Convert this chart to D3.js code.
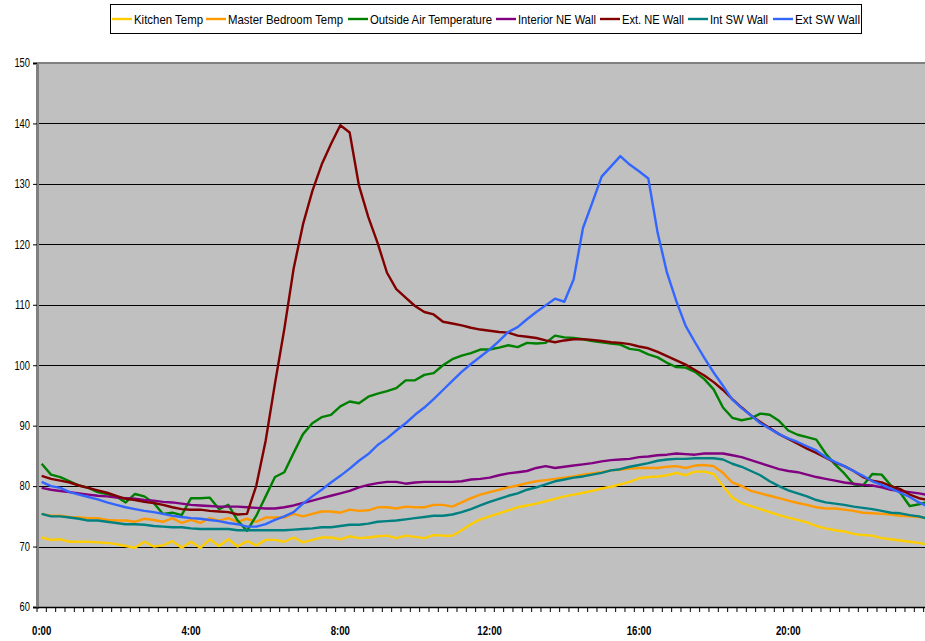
<!DOCTYPE html>
<html><head><meta charset="utf-8">
<script src="https://cdn.jsdelivr.net/npm/d3@7"></script>
<style>
html,body{margin:0;padding:0;background:#fff;}
svg text{font-family:"Liberation Sans",Arial,sans-serif;}
</style></head>
<body><svg id="c" width="925" height="641"></svg>
<script>
// 15-minute categories over 24 h
const times = d3.range(96).map(i => `${Math.floor(i/4)}:${String((i%4)*15).padStart(2,"0")}`);
const xTickLabels = ["0:00","4:00","8:00","12:00","16:00","20:00"];
const yTicks = [60,70,80,90,100,110,120,130,140,150];

const kitchen = [71.5,71.1,71.2,70.8,70.8,70.8,70.7,70.6,70.4,70.1,69.8,70.8,70.0,70.2,70.9,69.8,70.8,69.8,71.2,70.1,71.2,70.0,70.9,70.2,71.1,71.1,70.8,71.5,70.7,71.1,71.5,71.5,71.2,
71.7,71.4,71.5,71.7,71.8,71.4,71.8,71.6,71.4,71.9,71.8,71.8,72.7,73.7,74.5,75.0,75.5,76.0,76.5,76.8,77.1,77.5,77.9,78.3,78.6,78.9,79.2,79.6,79.9,80.3,80.7,81.3,
81.5,81.6,81.8,82.2,81.8,82.4,82.4,82.0,80.0,78.1,77.2,76.7,76.2,75.7,75.2,74.8,74.4,74.0,73.4,73.0,72.7,72.5,72.1,71.9,71.8,71.4,71.2,71.0,70.8,70.6,70.3];
const masterBedroom = [75.4,75.1,75.1,74.9,74.8,74.7,74.7,74.4,74.3,74.3,74.1,74.6,74.4,74.1,74.7,73.9,74.4,73.9,74.7,74.3,74.7,74.1,74.6,74.1,74.8,74.8,74.8,75.4,75.0,75.4,75.8,75.8,75.6,
76.1,75.9,76.0,76.5,76.5,76.3,76.6,76.5,76.5,76.9,76.9,76.6,77.3,78.0,78.6,79.0,79.4,79.8,80.1,80.5,80.8,81.0,81.2,81.4,81.6,81.9,82.1,82.3,82.6,82.7,82.9,83.0,
83.0,83.0,83.2,83.3,83.0,83.4,83.5,83.3,82.2,80.6,80.0,79.2,78.8,78.4,78.0,77.6,77.2,76.9,76.5,76.3,76.3,76.1,75.9,75.6,75.5,75.4,75.3,75.1,75.0,74.9,74.7];
const outsideAir = [83.7,81.9,81.5,80.8,80.1,79.7,79.0,78.7,78.3,77.3,78.7,78.3,77.2,75.4,75.6,75.2,78.0,78.0,78.1,76.2,76.9,74.3,72.6,75.1,
78.3,81.5,82.3,85.5,88.6,90.4,91.4,91.8,93.2,94.0,93.7,94.8,95.3,95.7,96.2,97.5,97.5,98.4,98.7,100.0,101.0,101.6,102.0,102.6,102.6,102.9,103.3,103.0,103.7,103.6,103.7,
104.9,104.6,104.5,104.3,104.0,103.8,103.6,103.4,102.7,102.5,101.8,101.3,100.4,99.7,99.6,98.9,97.7,96.0,93.0,91.3,90.9,91.2,92.0,91.8,90.8,89.2,88.5,88.1,87.7,
85.4,83.6,82.1,80.3,80.1,82.0,81.9,80.1,78.9,76.7,77.0,77.4];
const interiorNE = [79.7,79.4,79.2,79.0,78.8,78.6,78.4,78.3,78.1,78.0,77.9,77.7,77.6,77.4,77.3,77.1,76.9,76.8,76.7,76.6,76.6,76.6,76.5,76.4,76.3,76.3,76.5,76.8,77.2,77.6,78.0,78.4,78.8,
79.2,79.8,80.2,80.5,80.7,80.7,80.4,80.6,80.7,80.7,80.7,80.7,80.8,81.1,81.2,81.4,81.8,82.1,82.3,82.5,83.0,83.3,83.0,83.2,83.4,83.6,83.8,84.1,84.3,
84.4,84.5,84.8,84.9,85.1,85.2,85.4,85.3,85.2,85.4,85.4,85.4,85.1,84.8,84.3,83.8,83.3,82.8,82.5,82.3,81.9,81.5,81.2,80.9,80.6,80.4,80.2,80.1,79.8,79.4,79.2,79.0,78.8,78.5];
const extNE = [81.7,81.2,80.9,80.6,80.1,79.7,79.3,78.9,78.4,77.9,77.7,77.4,77.2,76.9,76.5,76.2,76.1,76.1,75.9,75.8,75.7,75.3,75.4,
80.1,87.5,97.0,106.0,116.0,123.3,128.8,133.2,136.6,139.7,138.5,129.7,124.5,120.2,115.3,112.6,111.2,109.8,108.8,108.4,107.2,106.9,106.6,106.2,105.9,105.7,105.5,105.4,
104.9,104.7,104.5,104.1,103.8,104.1,104.3,104.3,104.2,104.0,103.8,103.7,103.5,103.1,102.8,
102.2,101.5,100.8,100.1,99.2,98.3,97.2,95.9,94.4,93.0,91.7,90.6,89.6,88.6,87.8,87.0,86.2,85.5,84.7,83.9,83.3,82.5,81.5,80.9,80.6,80.0,79.5,78.6,78.0,77.7];
const intSW = [75.4,75.0,75.0,74.8,74.6,74.3,74.3,74.1,73.9,73.7,73.7,73.6,73.4,73.3,73.2,73.2,73.0,72.9,72.9,72.9,72.9,72.7,72.7,72.7,72.7,72.7,72.7,72.8,72.9,73.0,73.2,73.2,73.4,
73.6,73.6,73.8,74.1,74.2,74.3,74.5,74.7,74.9,75.1,75.1,75.3,75.7,76.2,76.8,77.4,77.9,78.4,78.8,79.4,79.8,80.3,80.8,81.1,81.4,81.6,81.9,82.2,82.6,
82.8,83.2,83.5,83.8,84.2,84.4,84.5,84.5,84.6,84.6,84.6,84.4,83.7,83.2,82.5,81.8,80.8,80.0,79.3,78.8,78.3,77.7,77.3,77.1,76.9,76.6,76.4,76.2,75.9,75.6,75.5,75.2,75.0,74.6];
const extSW = [80.7,80.0,79.7,79.0,78.6,78.2,77.8,77.3,76.9,76.5,76.2,75.9,75.7,75.4,75.1,74.9,74.7,74.6,74.4,74.2,73.9,73.7,73.3,73.3,73.7,74.4,75.0,75.7,77.1,
78.3,79.4,80.6,81.7,82.9,84.2,85.3,86.8,87.9,89.2,90.4,91.8,93.0,94.4,95.9,97.4,98.9,100.2,101.4,102.6,104.0,105.5,106.3,107.6,108.8,109.9,111.0,110.5,
114.2,122.7,126.9,131.2,132.9,134.6,133.2,132.1,130.9,121.9,115.3,110.6,106.5,103.8,101.2,98.8,96.6,94.3,92.9,91.7,90.4,89.5,88.6,87.9,87.3,86.6,85.9,84.8,84.0,
83.3,82.5,81.7,80.8,80.2,79.6,78.9,78.2,77.3,76.6];

const seriesNames = ["Kitchen Temp","Master Bedroom Temp","Outside Air Temperature","Interior NE Wall","Ext. NE Wall","Int SW Wall","Ext SW Wall"];
const seriesColors = ["#FFCC00","#FF9900","#008000","#800080","#800000","#008080","#3366FF"];
const seriesData = [kitchen, masterBedroom, outsideAir, interiorNE, extNE, intSW, extSW];

const svg = d3.select("#c");
const padL = 37, padT = 63, padB = 607, catW = 9.333;
const x = d3.scaleBand().domain(times).range([padL, padL + 96*catW]).padding(0);
const y = d3.scaleLinear().domain([60,150]).range([padB, padT]);

// condense text horizontally (narrow face look)
function condense(sel, f) {
  sel.each(function(){
    const w = this.getComputedTextLength();
    d3.select(this).attr("textLength", w*f).attr("lengthAdjust","spacingAndGlyphs");
  });
}

// plot background
svg.append("rect").attr("x", padL).attr("y", padT).attr("width", 96*catW).attr("height", padB-padT).attr("fill", "#C0C0C0");

// gridlines
svg.append("g").selectAll("line").data(yTicks.filter(v => v>60 && v<150)).join("line")
  .attr("x1", padL).attr("x2", padL+96*catW).attr("y1", d=>Math.round(y(d))+0.5).attr("y2", d=>Math.round(y(d))+0.5)
  .attr("stroke", "#000").attr("stroke-width", 1);
// top border
svg.append("line").attr("x1", padL).attr("x2", padL+96*catW).attr("y1", padT).attr("y2", padT)
  .attr("stroke", "#808080").attr("stroke-width", 2);

// lines
const line = d3.line().x((d,i)=> x(times[i]) + x.bandwidth()/2).y(d=>y(d));
svg.append("g").selectAll("path").data(seriesData).join("path")
  .attr("d", d=>line(d)).attr("fill","none")
  .attr("stroke", (d,i)=>seriesColors[i]).attr("stroke-width", 2.4)
  .attr("stroke-linejoin","round");

// y axis
const yAxis = d3.axisLeft(y).tickValues(yTicks).tickSize(4).tickPadding(3);
const gy = svg.append("g").attr("transform", `translate(${padL},0)`).call(yAxis);
gy.select(".domain").attr("stroke","#808080").attr("stroke-width",3);
gy.selectAll(".tick line").attr("stroke","#000");
gy.selectAll("text").attr("font-size", 12).attr("fill","#000").style("font-family",'"Liberation Sans",Arial,sans-serif');
condense(gy.selectAll("text"), 0.78);

// x axis
const xAxis = d3.axisBottom(x).tickValues(xTickLabels).tickSize(0).tickPadding(19);
const gx = svg.append("g").attr("transform", `translate(0,${padB})`).call(xAxis);
gx.select(".domain").attr("stroke","#000").attr("stroke-width",1.5);
gx.selectAll("text").attr("font-size", 12).attr("font-weight","bold").attr("fill","#000").style("font-family",'"Liberation Sans",Arial,sans-serif');
condense(gx.selectAll("text"), 0.8);
// category boundary tick marks
svg.append("g").selectAll("line").data(d3.range(97)).join("line")
  .attr("x1", d=>padL + d*catW).attr("x2", d=>padL + d*catW)
  .attr("y1", padB).attr("y2", padB+5).attr("stroke","#000").attr("stroke-width",1);

// legend
const lg = svg.append("g");
lg.append("rect").attr("x",110.5).attr("y",4.5).attr("width",751).attr("height",29)
  .attr("fill","#fff").attr("stroke","#000").attr("stroke-width",1);
const legX = [112, 206, 348, 496, 600, 688, 773];
const legW = [69, 115, 122, 78, 62, 58, 65];
const items = lg.selectAll("g.it").data(seriesNames).join("g").attr("class","it")
  .attr("transform",(d,i)=>`translate(${legX[i]},19)`);
items.append("line").attr("x1",0).attr("x2",20).attr("y1",0).attr("y2",0)
  .attr("stroke",(d,i)=>seriesColors[i]).attr("stroke-width",2.4);
items.append("text").attr("x",22).attr("y",4.5).attr("font-size",13).attr("fill","#000")
  .attr("textLength",(d,i)=>legW[i]).attr("lengthAdjust","spacingAndGlyphs").text(d=>d);
</script></body></html>
